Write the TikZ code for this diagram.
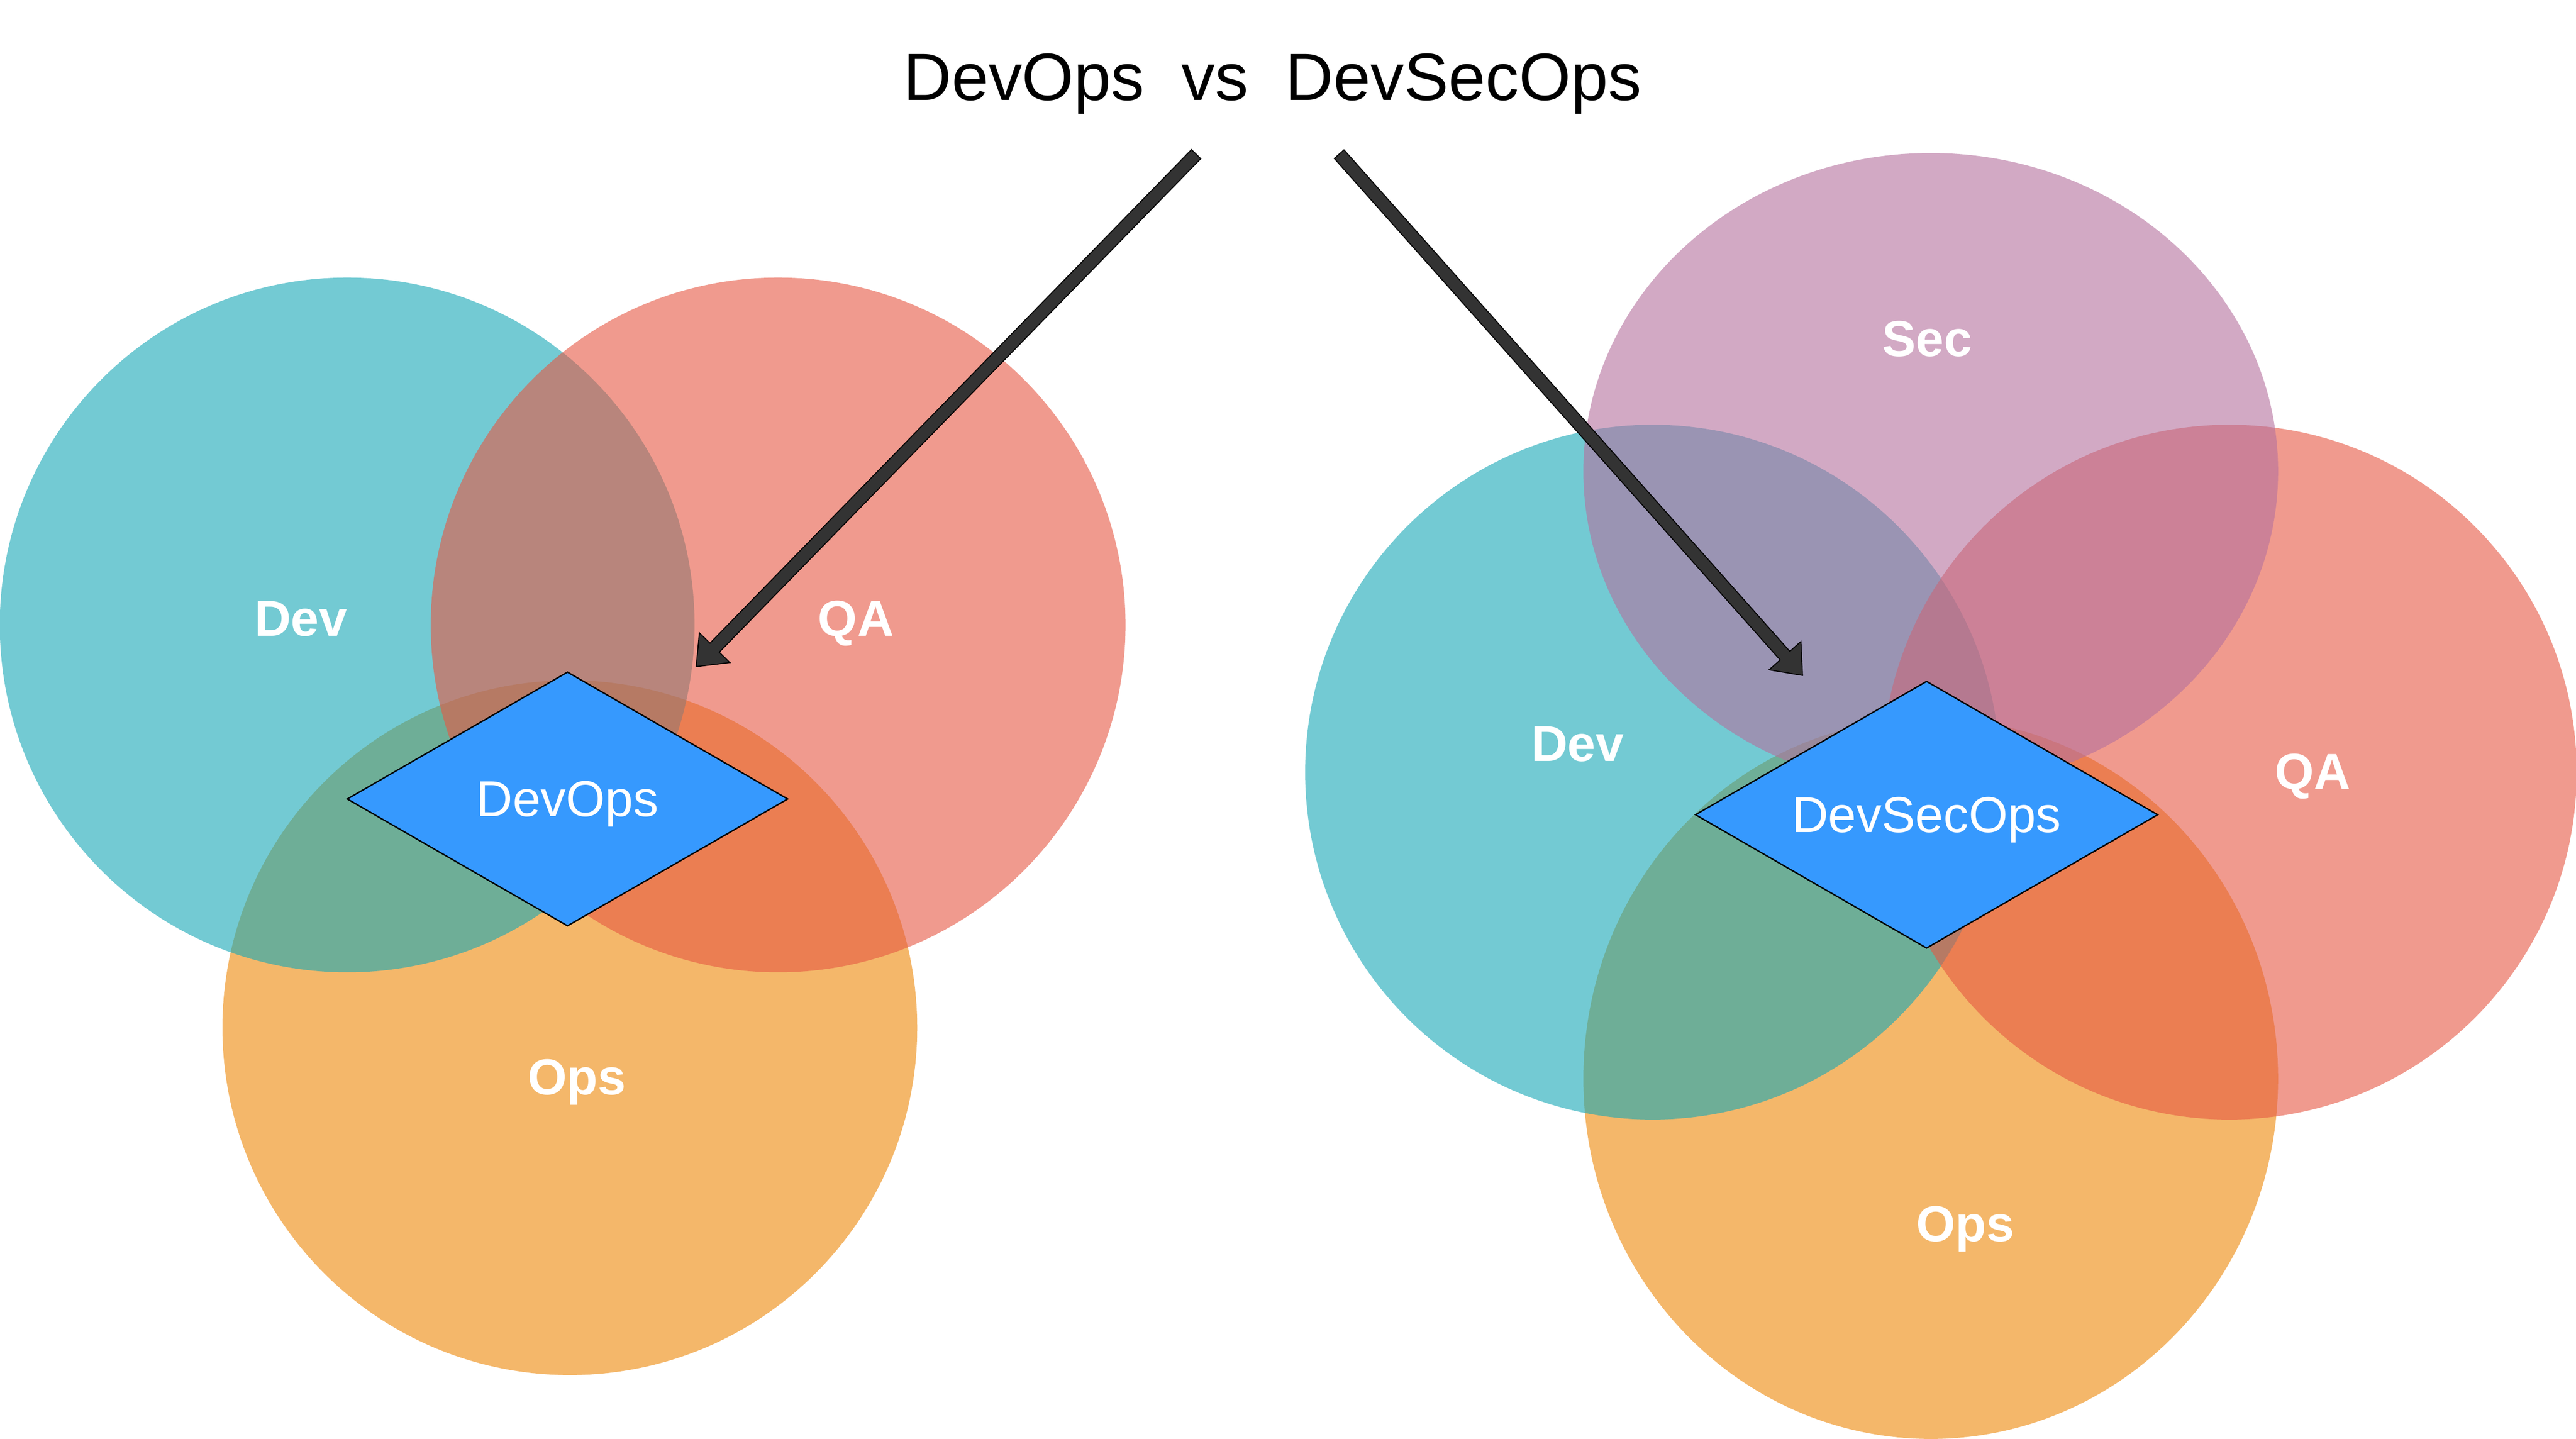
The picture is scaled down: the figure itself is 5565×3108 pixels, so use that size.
\documentclass[tikz,border=0pt]{standalone}
\usepackage{fontspec}
\setmainfont{Liberation Sans}
\usetikzlibrary{shapes.geometric,calc}
\definecolor{devc}{RGB}{22,168,182}
\definecolor{qac}{RGB}{230,88,67}
\definecolor{opsc}{RGB}{238,135,7}
\definecolor{secc}{RGB}{180,113,158}
\definecolor{diac}{RGB}{54,153,254}
\definecolor{arrc}{RGB}{51,51,51}
\tikzset{
  venn/.style={circle, minimum size=15cm, inner sep=0pt, outer sep=0pt, fill opacity=0.6},
  vennell/.style={ellipse, minimum width=15cm, minimum height=13.74cm, inner sep=0pt, outer sep=0pt, fill opacity=0.6},
  vlabel/.style={anchor=base, text=white, inner sep=0pt, font=\fontsize{31pt}{31pt}\selectfont\bfseries},
  dia/.style={diamond, aspect=1.73, draw=black, line width=0.85pt, fill=diac, inner sep=0pt, text=white, text depth=0pt, font=\fontsize{31pt}{31pt}\selectfont},
  titlestyle/.style={anchor=base, inner sep=0pt, font=\fontsize{41pt}{41pt}\selectfont},
  blockarrow/.style={draw=black, line width=0.6pt, fill=arrc, line join=miter},
}
\newcommand{\myblockarrow}[2]{%
  \coordinate (#1base) at ($(#2)!0.57cm!(#1)$);
  \draw[blockarrow]
    ($(#1)!0.14cm!90:(#2)$) --
    ($(#1base)!0.14cm!-90:(#1)$) --
    ($(#1base)!0.46cm!-90:(#1)$) --
    (#2) --
    ($(#1base)!0.46cm!90:(#1)$) --
    ($(#1base)!0.14cm!90:(#1)$) --
    ($(#1)!0.14cm!-90:(#2)$) -- cycle;
}
\begin{document}
\begin{tikzpicture}[x=0.01cm, y=-0.01cm]
\useasboundingbox (0,0) rectangle (5565,3108);
\fill[white] (0,0) rectangle (5565,3108);

% ---- left: DevOps ----
\node[venn, fill=opsc] (opsL) at (1231,2220) {};
\node[venn, fill=devc] (devL) at (750,1350) {};
\node[venn, fill=qac]  (qaL)  at (1681,1350) {};

% ---- right: DevSecOps ----
\node[vennell, minimum height=15.56cm, fill=opsc] (opsR) at (4171,2330) {};
\node[venn, fill=devc] (devR) at (3570,1668) {};
\node[venn, fill=qac]  (qaR)  at (4816,1668) {};
\node[vennell, fill=secc] (secR) at (4171,1018) {};

% ---- diamonds ----
\node[dia, minimum width=9.52cm, minimum height=5.49cm] (devops) at (1226,1726) {DevOps};
\node[dia, minimum width=9.99cm, minimum height=5.77cm] (devsecops) at (4162,1760) {DevSecOps};

% ---- labels ----
\node[vlabel] (ldev) at (650,1374) {Dev};
\node[vlabel] (lqa)  at (1849,1374) {QA};
\node[vlabel] (lops) at (1246,2365) {Ops};
\node[vlabel] (rsec) at (4163,770) {Sec};
\node[vlabel] (rdev) at (3408,1644) {Dev};
\node[vlabel] (rqa)  at (4996,1705) {QA};
\node[vlabel] (rops) at (4246,2682) {Ops};

% ---- title ----
\node[titlestyle] (title) at (2749,216) {DevOps\ \ vs\ \ DevSecOps};

% ---- arrows ----
\coordinate (tl) at (2584,333);
\coordinate (hl) at (1504,1440);
\coordinate (tr) at (2893,333);
\coordinate (hr) at (3894,1459);
\myblockarrow{tl}{hl}
\myblockarrow{tr}{hr}
\end{tikzpicture}
\end{document}
